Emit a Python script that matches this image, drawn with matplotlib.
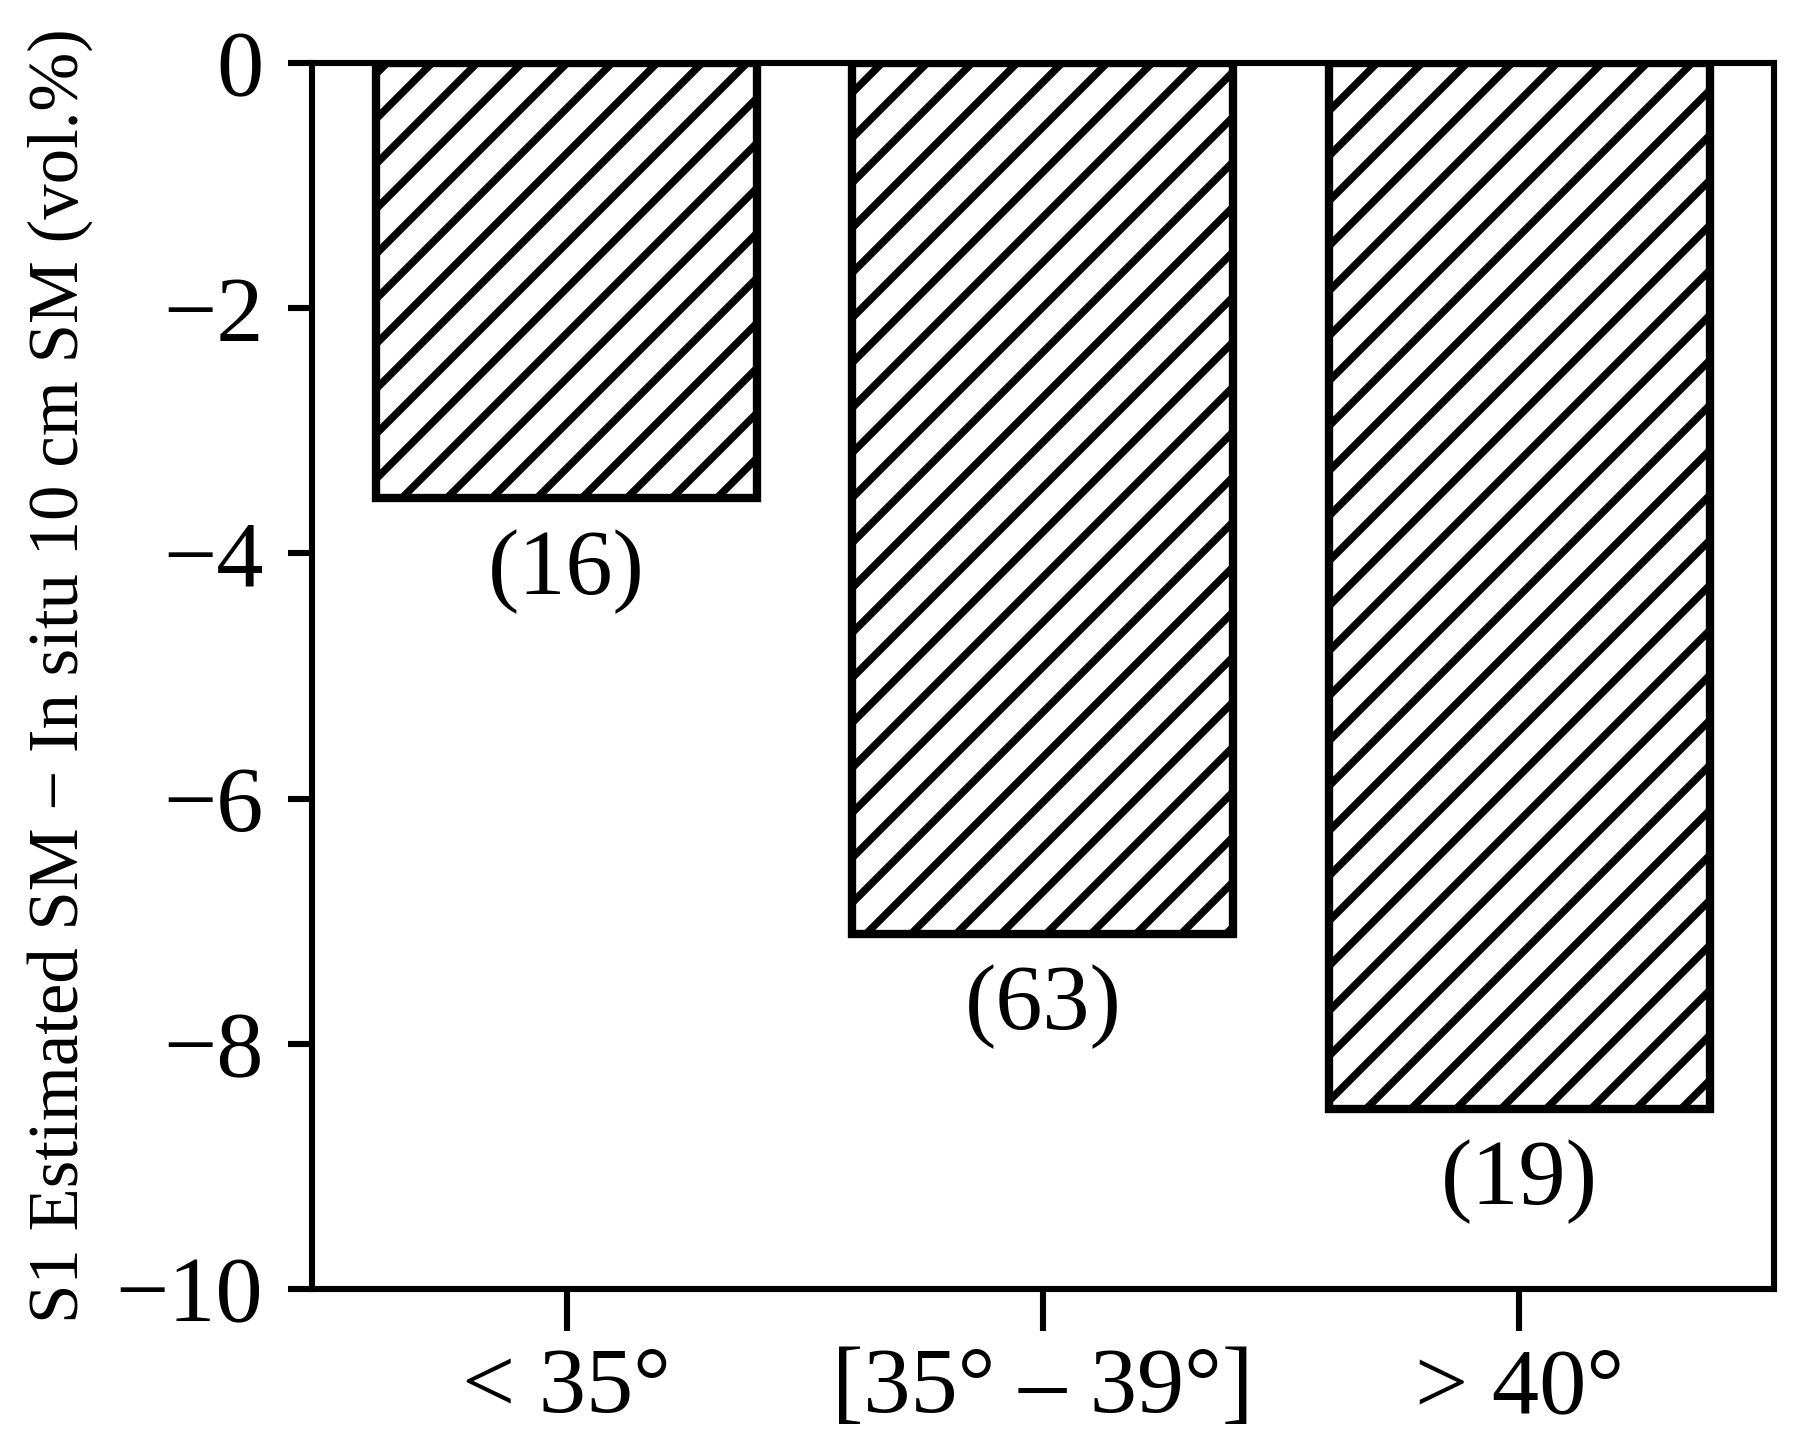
import matplotlib
matplotlib.use("Agg")
from matplotlib import pyplot as plt

# incidence angle classes, mean difference (vol.%), number of samples
categories = ["< 35°", "[35° – 39°]", "> 40°"]
diff_values = [-3.55, -7.1, -8.53]
n_samples = [16, 63, 19]
y_ticks = [0, -2, -4, -6, -8, -10]

DPI = 270
k = 200 / DPI  # sizes below were tuned at 200 dpi

plt.rcParams['font.family'] = ['Liberation Serif', 'DejaVu Serif']
plt.rcParams['hatch.linewidth'] = 2.7 * k
plt.rcParams['axes.unicode_minus'] = True

fig = plt.figure(figsize=(1797 / DPI, 1442 / DPI), dpi=DPI)
ax = fig.add_axes([0.1736, 0.106, 0.8136, 0.8504])

x = range(len(categories))
bars = ax.bar(x, diff_values, width=0.8, color="white", edgecolor="black",
              linewidth=3.0 * k, hatch="//")

for xi, v, n in zip(x, diff_values, n_samples):
    ax.annotate("({})".format(n), xy=(xi, v), xytext=(0, -11 * k),
                textcoords="offset points", ha="center", va="top", fontsize=34 * k)

ax.set_xlim(-0.535, 2.535)
ax.set_ylim(-10, 0)
ax.set_xticks(list(x))
ax.set_xticklabels(categories)
ax.set_yticks(y_ticks)
ax.set_yticklabels(["0"] + ["\u2212{}".format(-t) for t in y_ticks[1:]])

for s in ax.spines.values():
    s.set_linewidth(2.2 * k)
ax.tick_params(axis="y", length=8.5 * k, width=2.2 * k, labelsize=34 * k, pad=9 * k)
ax.tick_params(axis="x", length=15 * k, width=2.2 * k, labelsize=34 * k, pad=6 * k)

ax.set_ylabel("S1 Estimated SM \u2212 In situ 10 cm SM (vol.%)", fontsize=25.5 * k)
ax.yaxis.set_label_coords(-0.15, 0.5)

fig.savefig("out.png", dpi=DPI)
